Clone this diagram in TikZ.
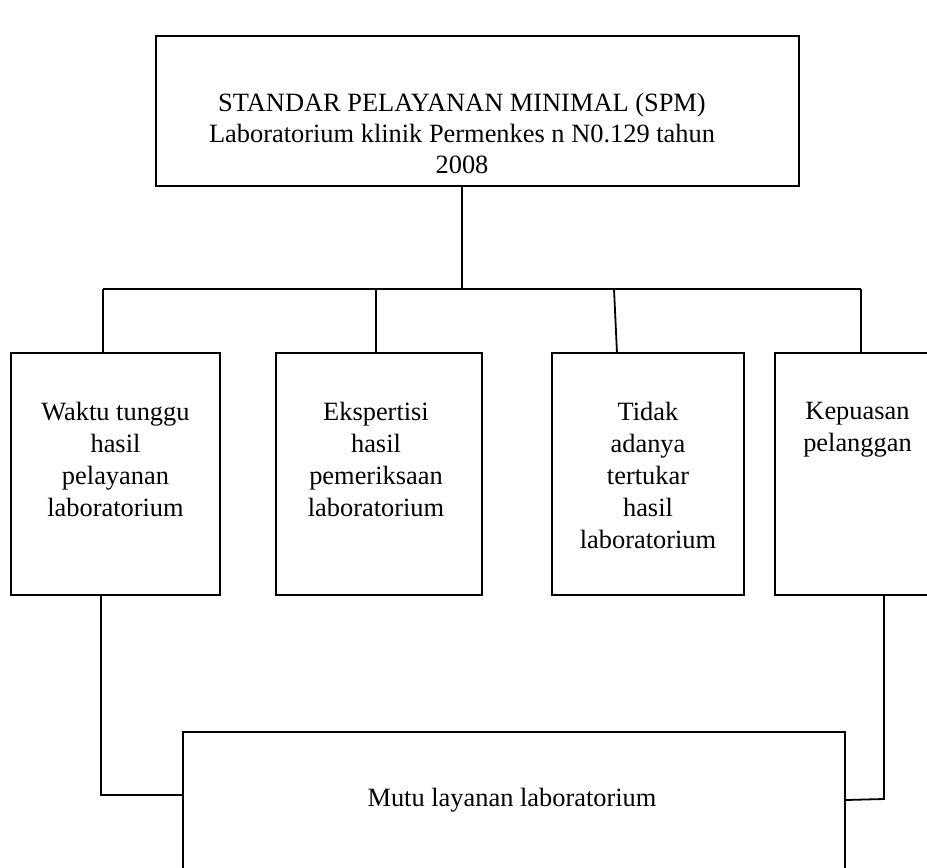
\documentclass[tikz,border=0pt]{standalone}
\usepackage{fontspec}
\setmainfont{Liberation Serif}
\usetikzlibrary{positioning}

\tikzset{
  box/.style={draw, line width=1.8pt, inner sep=0pt},
  lbl/.style={align=center, inner sep=0pt, font=\fontsize{26.4}{32}\selectfont},
  wire/.style={line width=1.8pt}
}

\begin{document}
\begin{tikzpicture}[x=1pt, y=-1pt]
\useasboundingbox (0,0) rectangle (927,868);
\clip (0,0) rectangle (927,868);
% boxes
\node[box, minimum width=643pt, minimum height=150pt] (spm) at (477.5,111) {};
\node[box, minimum width=209pt, minimum height=242pt] (wbox) at (115.5,474) {};
\node[box, minimum width=206pt, minimum height=242pt] (ebox) at (379,474) {};
\node[box, minimum width=192pt, minimum height=242pt] (tbox) at (648,474) {};
\node[box, minimum width=205pt, minimum height=242pt] (kbox) at (877.5,474) {};
\node[box, minimum width=662pt, minimum height=160pt] (mbox) at (514,812) {};
% texts
\node[lbl, font=\fontsize{26.4}{31}\selectfont, anchor=north] (spmtxt) at (462,93)
  {STANDAR PELAYANAN MINIMAL (SPM)\\Laboratorium klinik Permenkes n N0.129 tahun\\2008};
\node[lbl, below=50pt of wbox.north] (waktu) {Waktu tunggu\\hasil\\pelayanan\\laboratorium};
\node[lbl, below=50pt of ebox.north, xshift=-3pt] (eksp) {Ekspertisi\\hasil\\pemeriksaan\\laboratorium};
\node[lbl, below=50pt of tbox.north] (tidak) {Tidak\\adanya\\tertukar\\hasil\\laboratorium};
\node[lbl, below=50pt of kbox.north, xshift=-20pt] (kepuasan) {Kepuasan\\pelanggan};
\node[lbl] (mutu) at (512,800) {Mutu layanan laboratorium};
% connectors
\coordinate (busL) at (103,289);
\coordinate (busR) at (861,289);
\coordinate (lowL) at (101,795);
\coordinate (lowR) at (884,799);
\draw[wire] (spm.south -| spmtxt) -- (spmtxt |- busL);
\draw[wire] (busL) -- (busR);
\draw[wire] (busL) -- (busL |- wbox.north);
\draw[wire] (376,289) -- (376,353);
\draw[wire] (614,289) -- (617,353);
\draw[wire] (busR) -- (busR |- kbox.north);
\draw[wire] (lowL |- wbox.south) -- (lowL) -- (lowL -| mbox.west);
\draw[wire] (lowR |- kbox.south) -- (lowR) -- (mbox.east |- 0,800);
\end{tikzpicture}
\end{document}
